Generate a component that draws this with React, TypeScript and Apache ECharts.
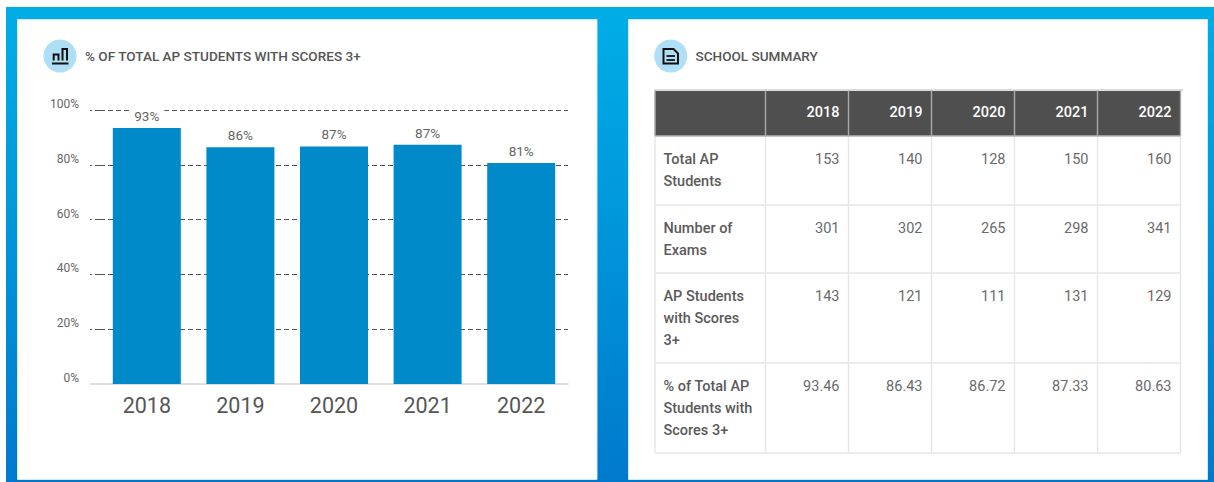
import React, { useEffect, useRef } from "react";
import * as echarts from "echarts";

const years = ["2018", "2019", "2020", "2021", "2022"];
const totalStudents = [153, 140, 128, 150, 160];
const numberOfExams = [301, 302, 265, 298, 341];
const studentsScores3 = [143, 121, 111, 131, 129];
const pctScores3 = [93.46, 86.43, 86.72, 87.33, 80.63];
const pctScores3Text = ["93.46", "86.43", "86.72", "87.33", "80.63"];
const gridTickValues = [20, 40, 60, 80, 100];
const rowLabels = [
  ["Total AP", "Students"],
  ["Number of", "Exams"],
  ["AP Students", "with Scores", "3+"],
  ["% of Total AP", "Students with", "Scores 3+"],
];
const rowValues: (number | string)[][] = [totalStudents, numberOfExams, studentsScores3, pctScores3Text];
const chartTitle = "% OF TOTAL AP STUDENTS WITH SCORES 3+";
const tableTitle = "SCHOOL SUMMARY";

const FONT = "Roboto";
const colX = [655, 765.5, 848.5, 931.5, 1014.5, 1097.5, 1180.5];
const rowY = [90.5, 136, 205, 273, 363, 453];

function tableGraphics(): any[] {
  const out: any[] = [];
  const lineStyle = { stroke: "#e6e6e6", lineWidth: 1.4 };
  out.push({
    type: "rect",
    shape: { x: colX[0], y: rowY[0], width: colX[6] - colX[0], height: rowY[1] - rowY[0] },
    style: { fill: "#4f4f4f" },
  });
  out.push({ type: "line", shape: { x1: colX[0] - 1, y1: 90, x2: 1183, y2: 90 }, style: { stroke: "#dcdcdc", lineWidth: 2 } });
  colX.forEach((x) => {
    out.push({ type: "line", shape: { x1: x, y1: rowY[1], x2: x, y2: rowY[5] }, style: lineStyle });
    out.push({
      type: "line",
      shape: { x1: x, y1: rowY[0], x2: x, y2: rowY[1] },
      style: { stroke: "#aaaaaa", lineWidth: 1.4 },
    });
  });
  rowY.slice(1).forEach((y, i) => {
    out.push({
      type: "line",
      shape: { x1: colX[0], y1: y, x2: colX[6], y2: y },
      style: i === 0 ? { stroke: "#b5b5b5", lineWidth: 1.4 } : lineStyle,
    });
  });
  years.forEach((yr, c) => {
    out.push({
      type: "text",
      x: colX[c + 2] - 9,
      y: 112.5,
      style: { text: yr, fill: "#ffffff", font: `500 14.5px ${FONT}`, align: "right", verticalAlign: "middle" },
    });
  });
  rowLabels.forEach((lines, r) => {
    lines.forEach((t, l) => {
      out.push({
        type: "text",
        x: 663.5,
        y: rowY[r + 1] + 23.5 + l * 22,
        style: { text: t, fill: "#5a5a5a", font: `500 14.5px ${FONT}`, align: "left", verticalAlign: "middle" },
      });
    });
    rowValues[r].forEach((v, c) => {
      out.push({
        type: "text",
        x: colX[c + 2] - 9,
        y: rowY[r + 1] + 23.5,
        style: { text: String(v), fill: "#6a6a6a", font: `400 14.5px ${FONT}`, align: "right", verticalAlign: "middle" },
      });
    });
  });
  return out;
}

function iconGraphics(): any[] {
  const ink = "#111111";
  const s = { stroke: ink, lineWidth: 2, fill: "none" };
  return [
    { type: "circle", shape: { cx: 60, cy: 56, r: 16.5 }, style: { fill: "#aedff5" } },
    { type: "polyline", shape: { points: [[53.7, 60.5], [53.7, 54.5], [58.5, 54.5], [58.5, 60.5]] }, style: s },
    { type: "polyline", shape: { points: [[62.5, 60.5], [62.5, 49], [67, 49], [67, 60.5]] }, style: s },
    { type: "line", shape: { x1: 52, y1: 63.5, x2: 68.5, y2: 63.5 }, style: { stroke: ink, lineWidth: 2 } },
    { type: "circle", shape: { cx: 670.7, cy: 56, r: 16.5 }, style: { fill: "#aedff5" } },
    {
      type: "polygon",
      shape: { points: [[663.5, 49], [673.5, 49], [678, 53.5], [678, 63.5], [663.5, 63.5]] },
      style: { stroke: ink, lineWidth: 2, fill: "none" },
    },
    { type: "line", shape: { x1: 666.5, y1: 56, x2: 675, y2: 56 }, style: { stroke: ink, lineWidth: 1.8 } },
    { type: "line", shape: { x1: 666.5, y1: 60, x2: 675, y2: 60 }, style: { stroke: ink, lineWidth: 1.8 } },
  ];
}

export default function App() {
  const ref = useRef<HTMLDivElement>(null);
  useEffect(() => {
    document.body.style.margin = "0";
    document.body.style.background = "#ffffff";
    const chart = echarts.init(ref.current!, null, { renderer: "svg" });
    const panel = { fill: "#ffffff", stroke: "#d5e9f3", lineWidth: 1 };
    const titleStyle = { fontFamily: FONT, fontSize: 13.55, fontWeight: 500, color: "#555555", lineHeight: 15 };
    chart.setOption({
      animation: false,
      textStyle: { fontFamily: FONT },
      title: [
        { text: chartTitle, left: 85, top: 48, padding: 0, textStyle: titleStyle },
        { text: tableTitle, left: 695.5, top: 48, padding: 0, textStyle: titleStyle },
      ],
      grid: { left: 100, width: 468, top: 110, height: 274, containLabel: false },
      xAxis: {
        type: "category",
        data: years,
        axisLine: { lineStyle: { color: "#d4d4d4", width: 1.5 } },
        axisTick: { show: false },
        axisLabel: { fontFamily: FONT, fontSize: 21.5, color: "#565656", margin: 10 },
      },
      yAxis: {
        type: "value",
        min: 0,
        max: 100,
        interval: 20,
        axisLine: { show: false },
        axisTick: {
          show: true,
          length: 10,
          customValues: gridTickValues,
          lineStyle: { color: "#555555", type: [5, 3], width: 1 },
        },
        splitLine: { show: true, lineStyle: { color: "#555555", type: [5, 3], width: 1 } },
        axisLabel: {
          fontFamily: FONT,
          fontSize: 12,
          color: "#666666",
          margin: 21,
          formatter: "{value}%",
          verticalAlign: "bottom",
        },
      },
      series: [
        {
          type: "bar",
          data: pctScores3,
          barWidth: 68,
          itemStyle: { color: "#008ac9" },
          z: 5,
          label: {
            show: true,
            position: "top",
            distance: 3,
            formatter: (p: any) => `${Math.round(p.value)}%`,
            fontFamily: FONT,
            fontSize: 13.5,
            color: "#666666",
            backgroundColor: "#ffffff",
            padding: [3, 5, 2, 5],
          },
        },
      ],
      graphic: [
        {
          type: "group",
          silent: true,
          z: -10,
          children: [
            {
              type: "rect",
              shape: { x: 6, y: 7, width: 1208, height: 475 },
              style: {
                fill: new echarts.graphic.LinearGradient(0, 0, 0, 1, [
                  { offset: 0, color: "#00aee6" },
                  { offset: 1, color: "#0079cc" },
                ]),
              },
            },
            { type: "rect", shape: { x: 17.5, y: 19.5, width: 579.5, height: 460 }, style: panel },
            { type: "rect", shape: { x: 628.5, y: 19.5, width: 579, height: 460 }, style: panel },
          ],
        },
        {
          type: "group",
          silent: true,
          z: 10,
          children: [
            ...iconGraphics(),
            ...tableGraphics(),
            { type: "line", shape: { x1: 90, y1: 384, x2: 101, y2: 384 }, style: { stroke: "#d4d4d4", lineWidth: 1.5 } },
          ],
        },
      ],
    });
    return () => chart.dispose();
  }, []);
  return <div ref={ref} style={{ width: 1214, height: 482 }} />;
}
